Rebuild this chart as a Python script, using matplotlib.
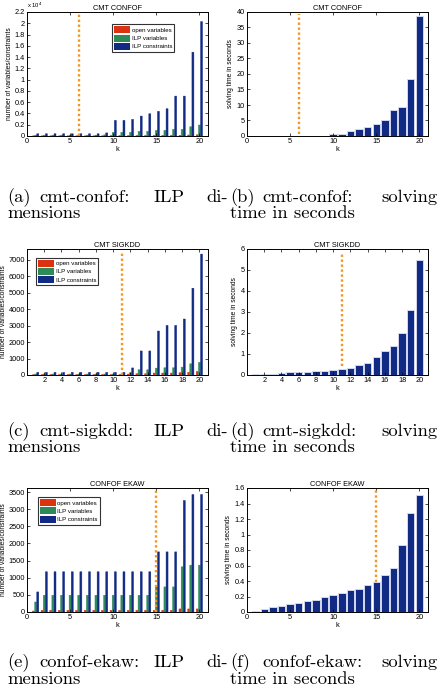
import numpy as np
import matplotlib
matplotlib.use("Agg")
import matplotlib.pyplot as plt
from matplotlib.patches import Patch
from matplotlib.ticker import FuncFormatter

# ---------------- data ----------------
k = list(range(1, 21))

# CMT CONFOF
confof_open = [10, 10, 10, 10, 10, 10, 10, 10, 20, 60, 60, 60, 80, 80, 90, 100, 120, 120, 180, 220]
confof_ilpvars = [150, 150, 150, 150, 150, 150, 150, 150, 200, 650, 650, 650, 830, 830, 1000, 1000, 1180, 1180, 1650, 1950]
confof_constr = [400, 400, 400, 400, 400, 400, 400, 400, 550, 2770, 2770, 2950, 3540, 3950, 4370, 4840, 7080, 7080, 14870, 20300]
confof_time = [0.05, 0.05, 0.05, 0.05, 0.05, 0.05, 0.05, 0.05, 0.15, 0.5, 0.8, 1.6, 2.2, 2.8, 3.9, 5.2, 8.4, 9.5, 18.3, 38.7]
confof_cut = 6

# CMT SIGKDD
sigkdd_open = [20, 20, 20, 20, 20, 20, 20, 20, 20, 20, 20, 60, 80, 80, 120, 120, 120, 140, 160, 220]
sigkdd_ilpvars = [60, 60, 60, 60, 60, 60, 60, 60, 60, 60, 60, 140, 320, 320, 420, 440, 440, 480, 680, 770]
sigkdd_constr = [160, 160, 160, 160, 160, 160, 160, 160, 160, 160, 160, 430, 1460, 1460, 2670, 3010, 3010, 3400, 5270, 7340]
sigkdd_time = [0.04, 0.05, 0.06, 0.1, 0.12, 0.14, 0.14, 0.18, 0.19, 0.24, 0.27, 0.32, 0.47, 0.57, 0.86, 1.15, 1.39, 2.02, 3.1, 5.46]
sigkdd_cut = 11

# CONFOF EKAW
ekaw_open = [30, 50, 50, 50, 50, 50, 50, 50, 50, 50, 50, 50, 50, 50, 50, 50, 50, 90, 90, 90]
ekaw_ilpvars = [293, 490, 490, 490, 490, 490, 490, 490, 490, 490, 490, 490, 490, 490, 733, 733, 733, 1320, 1368, 1368]
ekaw_constr = [586, 1175, 1175, 1175, 1175, 1175, 1175, 1175, 1175, 1175, 1175, 1175, 1175, 1175, 1755, 1755, 1755, 3255, 3430, 3430]
ekaw_time = [0.013, 0.04, 0.06, 0.08, 0.1, 0.12, 0.14, 0.16, 0.19, 0.22, 0.25, 0.28, 0.3, 0.343, 0.39, 0.48, 0.564, 0.867, 1.275, 1.505]
ekaw_cut = 15

titles = ["CMT CONFOF", "CMT SIGKDD", "CONFOF EKAW"]
series_names = ["open variables", "ILP variables", "ILP constraints"]

captions = [
    (["(a)", "cmt-confof:", "ILP", "di-"], "mensions",
     ["(b)", "cmt-confof:", "solving"], "time in seconds"),
    (["(c)", "cmt-sigkdd:", "ILP", "di-"], "mensions",
     ["(d)", "cmt-sigkdd:", "solving"], "time in seconds"),
    (["(e)", "confof-ekaw:", "ILP", "di-"], "mensions",
     ["(f)", "confof-ekaw:", "solving"], "time in seconds"),
]

# ---------------- style ----------------
RED = "#dc3212"
GREEN = "#2e8b57"
BLUE = "#112a84"
ORANGE = "#f5961e"
SANS = ["Liberation Sans", "DejaVu Sans"]
plt.rcParams["font.family"] = SANS

W, H = 439, 697
fig = plt.figure(figsize=(W / 100, H / 100), dpi=100)


def px_axes(left, top, right, bottom):
    return fig.add_axes([left / W, 1 - bottom / H, (right - left) / W, (bottom - top) / H])


rows_px = [(12, 136), (249, 375), (488, 612)]
cols_px = [(27, 208), (247, 428)]

grouped = [
    (confof_open, confof_ilpvars, confof_constr),
    (sigkdd_open, sigkdd_ilpvars, sigkdd_constr),
    (ekaw_open, ekaw_ilpvars, ekaw_constr),
]
times = [confof_time, sigkdd_time, ekaw_time]
cuts = [confof_cut, sigkdd_cut, ekaw_cut]
ylims_g = [(0, 22000), (0, 7650), (0, 3620)]
yticks_g = [np.arange(0, 22001, 2000), np.arange(0, 7001, 1000), np.arange(0, 3501, 500)]
ylims_t = [(0, 40), (0, 6), (0, 1.6)]
yticks_t = [np.arange(0, 41, 5), np.arange(0, 7, 1), np.arange(0, 1.61, 0.2)]
xticks = [np.arange(0, 21, 5), np.arange(2, 21, 2), np.arange(0, 21, 5)]
legend_anchor = [(0.47, 0.9), (0.05, 0.93), (0.06, 0.925)]
cut_span_g = [(0, 0.99), (0, 0.98), (0, 1.0)]
cut_span_t = [(0.02, 0.985), (0.075, 0.97), (0.245, 1.0)]

TICKFS = 5.3


def style_axes(ax):
    ax.tick_params(direction="in", length=2, width=0.5, labelsize=TICKFS,
                   top=True, right=True, pad=1.5)
    for s in ax.spines.values():
        s.set_linewidth(0.7)
    ax.set_xlim(0, 21)
    ax.set_xlabel("k", fontsize=TICKFS, labelpad=0.5)


def gfmt(v, pos):
    return "%g" % round(v, 6)


x = np.array(k)
for r in range(3):
    top, bot = rows_px[r]
    # grouped bar chart
    ax = px_axes(cols_px[0][0], top, cols_px[0][1], bot)
    o, iv, c = grouped[r]
    bw = 0.23
    for vals, off, col in ((o, -0.25, RED), (iv, 0.0, GREEN), (c, 0.25, BLUE)):
        bars = ax.bar(x + off, vals, bw, color=col, edgecolor=col, linewidth=0.3)
        for b in bars:
            b.set_snap(False)
    ax.axvline(cuts[r], ymin=cut_span_g[r][0], ymax=cut_span_g[r][1], color=ORANGE,
               lw=1.7, linestyle=(0, (1, 1.1)), dash_capstyle="butt")
    style_axes(ax)
    ax.set_ylim(*ylims_g[r])
    ax.set_yticks(yticks_g[r])
    ax.set_xticks(xticks[r])
    if r == 0:
        ax.yaxis.set_major_formatter(FuncFormatter(lambda v, p: gfmt(v / 1e4, p)))
        ax.text(0.0, 1.015, r"x 10$^4$", transform=ax.transAxes, fontsize=4.2, ha="left", va="bottom")
    else:
        ax.yaxis.set_major_formatter(FuncFormatter(gfmt))
    ax.set_title(titles[r], fontsize=TICKFS, pad=1.5)
    ax.set_ylabel("number of variables/constraints", fontsize=4.8, labelpad=1.0)
    handles = [Patch(facecolor=RED, edgecolor="none"), Patch(facecolor=GREEN, edgecolor="none"),
               Patch(facecolor=BLUE, edgecolor="none")]
    leg = ax.legend(handles, series_names, loc="upper left", bbox_to_anchor=legend_anchor[r],
                    fontsize=4.4, frameon=True, fancybox=False, handlelength=2.6, handleheight=1.4,
                    handletextpad=0.3, borderpad=0.3, labelspacing=0.2, borderaxespad=0)
    leg.get_frame().set_edgecolor("black")
    leg.get_frame().set_linewidth(0.8)

    # time chart
    ax2 = px_axes(cols_px[1][0], top, cols_px[1][1], bot)
    ax2.bar(x, times[r], 0.86, color=BLUE, edgecolor="#d4d8ee", linewidth=0.7)
    ax2.axvline(cuts[r], ymin=cut_span_t[r][0], ymax=cut_span_t[r][1], color=ORANGE,
                lw=1.7, linestyle=(0, (1, 1.1)), dash_capstyle="butt")
    style_axes(ax2)
    ax2.set_ylim(*ylims_t[r])
    ax2.set_yticks(yticks_t[r])
    ax2.set_xticks(xticks[r])
    ax2.yaxis.set_major_formatter(FuncFormatter(gfmt))
    ax2.set_title(titles[r], fontsize=TICKFS, pad=1.5)
    ax2.set_ylabel("solving time in seconds", fontsize=4.8, labelpad=2)

# ---------------- captions ----------------
CAPFS = 13.4
CAPFAM = ["cmr10", "DejaVu Serif"]
cap_base = [(202, 218), (436, 452), (667, 684)]
left_pos = [7, 39, 154]
right_pos = [230, 262]
for r in range(3):
    w1, l2, w2, r2 = captions[r]
    b1, b2 = cap_base[r]
    for word, xp in zip(w1[:3], left_pos):
        fig.text(xp / W, 1 - b1 / H, word, fontsize=CAPFS, family=CAPFAM, ha="left", va="baseline")
    fig.text(228 / W, 1 - b1 / H, w1[3], fontsize=CAPFS, family=CAPFAM, ha="right", va="baseline")
    fig.text(7 / W, 1 - b2 / H, l2, fontsize=CAPFS, family=CAPFAM, ha="left", va="baseline")
    for word, xp in zip(w2[:2], right_pos):
        fig.text(xp / W, 1 - b1 / H, word, fontsize=CAPFS, family=CAPFAM, ha="left", va="baseline")
    fig.text(438 / W, 1 - b1 / H, w2[2], fontsize=CAPFS, family=CAPFAM, ha="right", va="baseline")
    fig.text(230 / W, 1 - b2 / H, r2, fontsize=CAPFS, family=CAPFAM, ha="left", va="baseline")

fig.savefig("out.png", dpi=100)
